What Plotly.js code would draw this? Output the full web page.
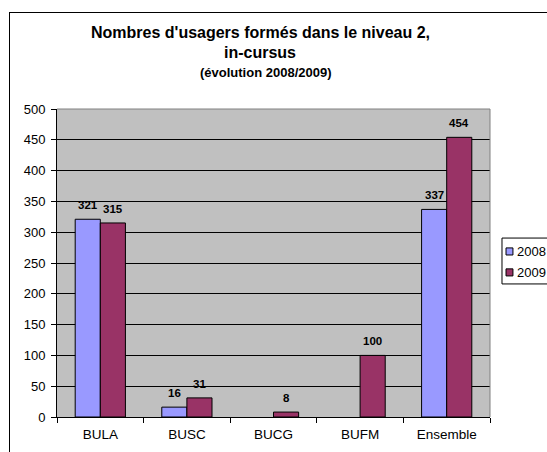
<!DOCTYPE html>
<html>
<head>
<meta charset="utf-8">
<script src="https://cdn.plot.ly/plotly-3.0.1.min.js"></script>
<style>
  html, body { margin: 0; padding: 0; background: #fff; overflow: hidden; }
  #wrap { position: relative; width: 547px; height: 452px; }
  #chart { width: 547px; height: 452px; }
  #frame { position: absolute; left: 9px; top: 12px; width: 700px; height: 600px;
           border: 1px solid #000; pointer-events: none; }
</style>
</head>
<body>
<div id="wrap">
  <div id="chart"></div>
  <div id="frame"></div>
</div>
<script>
const categories = ["BULA", "BUSC", "BUCG", "BUFM", "Ensemble"];
const values2008 = [321, 16, null, null, 337];
const values2009 = [315, 31, 8, 100, 454];
const seriesNames = ["2008", "2009"];
const seriesColors = ["#9999FF", "#993366"];
const yTicks = [0, 50, 100, 150, 200, 250, 300, 350, 400, 450, 500];

const FAM = "Arial, Liberation Sans, sans-serif";
const labelFont = { family: FAM, size: 11.5, color: "#000" };
const font = { family: FAM, size: 13, color: "#000" };
const xFont = { family: FAM, size: 13.5, color: "#000" };

function barTrace(name, vals, color) {
  return {
    type: "bar",
    name: name,
    x: categories,
    y: vals,
    marker: { color: color, line: { color: "#000", width: 1 } },
    hoverinfo: "x+y"
  };
}

const data = [
  barTrace(seriesNames[0], values2008, seriesColors[0]),
  barTrace(seriesNames[1], values2009, seriesColors[1])
];

// data labels placed through the axes, shifted like Excel labels
function labelAnnotations(vals, xshift) {
  const out = [];
  vals.forEach((v, i) => {
    if (v === null) return;
    out.push({
      xref: "x", yref: "y", x: categories[i], y: v,
      xshift: xshift, yshift: 14, xanchor: "center", yanchor: "middle",
      showarrow: false, text: "<b>" + v + "</b>", font: labelFont
    });
  });
  return out;
}

// manual legend (Excel style: small squares, tight spacing)
const legendShapes = [
  { type: "rect", xref: "paper", yref: "paper", x0: 1.0277, x1: 1.35, y0: 0.432, y1: 0.581,
    line: { color: "#000", width: 1 }, fillcolor: "#fff", layer: "above" },
  { type: "rect", xref: "paper", yref: "paper", x0: 1.037, x1: 1.053, y0: 0.526, y1: 0.549,
    line: { color: "#000", width: 1 }, fillcolor: seriesColors[0], layer: "above" },
  { type: "rect", xref: "paper", yref: "paper", x0: 1.037, x1: 1.053, y0: 0.458, y1: 0.481,
    line: { color: "#000", width: 1 }, fillcolor: seriesColors[1], layer: "above" }
];
const legendTexts = [
  { xref: "paper", yref: "paper", x: 1.058, y: 0.537, xanchor: "left", yanchor: "middle",
    showarrow: false, text: seriesNames[0], font: font },
  { xref: "paper", yref: "paper", x: 1.058, y: 0.469, xanchor: "left", yanchor: "middle",
    showarrow: false, text: seriesNames[1], font: font }
];

const layout = {
  width: 547,
  height: 452,
  margin: { l: 57, r: 57, t: 109, b: 35, autoexpand: false },
  paper_bgcolor: "#fff",
  plot_bgcolor: "#C0C0C0",
  font: font,
  barmode: "group",
  bargap: 0.42,
  bargroupgap: 0,
  showlegend: false,
  xaxis: {
    type: "category",
    showgrid: false,
    showline: true, linecolor: "#000", linewidth: 1,
    ticks: "outside", ticklen: 5, tickcolor: "#000",
    tickson: "boundaries",
    tickfont: xFont,
    ticklabelstandoff: 5,
    zeroline: false,
    fixedrange: true
  },
  yaxis: {
    range: [0, 500],
    tickvals: yTicks,
    ticktext: yTicks.map(String),
    showgrid: true, gridcolor: "#000", gridwidth: 1,
    showline: true, linecolor: "#000", linewidth: 1,
    ticks: "outside", ticklen: 5, tickcolor: "#000",
    tickfont: font,
    ticklabelstandoff: 3,
    zeroline: false,
    fixedrange: true
  },
  shapes: [
    { type: "line", xref: "paper", yref: "paper", x0: 0, x1: 1, y0: 1, y1: 1,
      line: { color: "#808080", width: 1 }, layer: "above" },
    { type: "line", xref: "paper", yref: "paper", x0: 1, x1: 1, y0: 0, y1: 1,
      line: { color: "#808080", width: 1 }, layer: "above" }
  ].concat(legendShapes),
  annotations: [
    { xref: "paper", yref: "paper", x: 0.469, y: 1.247, xanchor: "center", yanchor: "middle",
      showarrow: false, text: "<b>Nombres d'usagers formés dans le niveau 2,</b>",
      font: { family: FAM, size: 16, color: "#000" } },
    { xref: "paper", yref: "paper", x: 0.469, y: 1.185, xanchor: "center", yanchor: "middle",
      showarrow: false, text: "<b>in-cursus</b>",
      font: { family: FAM, size: 16, color: "#000" } },
    { xref: "paper", yref: "paper", x: 0.482, y: 1.120, xanchor: "center", yanchor: "middle",
      showarrow: false, text: "<b>(évolution 2008/2009)</b>",
      font: { family: FAM, size: 13, color: "#000" } }
  ].concat(legendTexts)
   .concat(labelAnnotations(values2008, -12.5))
   .concat(labelAnnotations(values2009, 12.5))
};

Plotly.newPlot("chart", data, layout, { displayModeBar: false, staticPlot: true });
</script>
</body>
</html>
